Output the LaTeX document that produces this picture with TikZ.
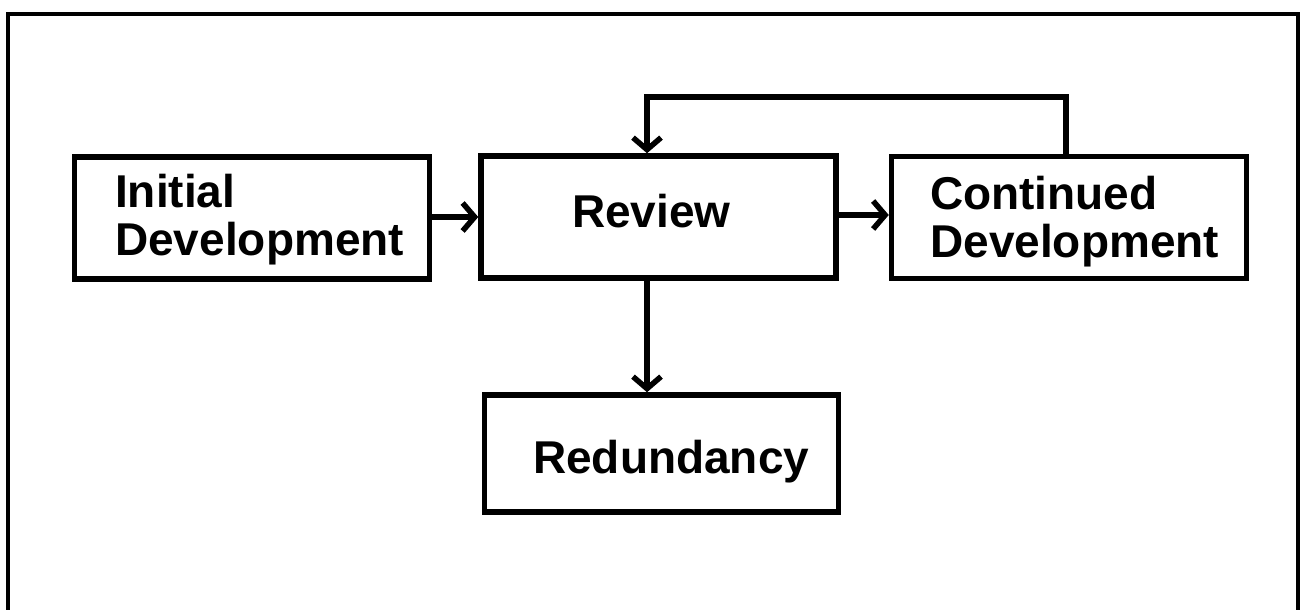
\documentclass[tikz,border=0pt]{standalone}
\usepackage{fontspec}
\setmainfont{Liberation Sans}
\usetikzlibrary{arrows.meta}
\begin{document}
\begin{tikzpicture}[x=1pt,y=-1pt,
  box/.style={draw, line width=5.5pt, minimum width=355pt, minimum height=122pt, inner sep=0pt},
  lbl/.style={inner sep=0pt, anchor=base west, align=left, font=\fontsize{46}{48}\selectfont\bfseries},
  conn/.style={line width=5.5pt, -{Straight Barb[length=12pt,width=28pt]}},
  frame/.style={line width=4pt}]
\useasboundingbox (0,0) rectangle (1303,610);
\clip (0,0) rectangle (1303,610);
\draw[frame] (8,660) -- (8,14) -- (1298,14) -- (1298,660);
% boxes
\node[box] (init) at (252,218) {};
\node[box] (review) at (658.5,217) {};
\node[box] (cont) at (1069,217.5) {};
\node[box, minimum width=354pt, minimum height=117pt] (red) at (661.5,453.5) {};
% labels
\node[lbl] (initT) at (115,255) {Initial\\Development};
\node[lbl] (reviewT) at (572,227) {Review};
\node[lbl] (contT) at (930,257) {Continued\\Development};
\node[lbl] (redT) at (533,473) {Redundancy};
% connectors
\draw[conn] ([yshift=1pt]init.east) -- ([yshift=1pt]init.east -| review.west);
\draw[conn] ([yshift=2pt]review.east) -- ([yshift=2pt]review.east -| cont.west);
\draw[conn] ([xshift=-11.5pt]review.south) -- ([xshift=-11.5pt]review.south |- red.north);
\coordinate (fbR) at ([xshift=-3pt]cont.north);
\coordinate (fbL) at ([xshift=-11.5pt]review.north);
\draw[conn] (fbR) -- ++(0,-57) -| (fbL);
\end{tikzpicture}
\end{document}
